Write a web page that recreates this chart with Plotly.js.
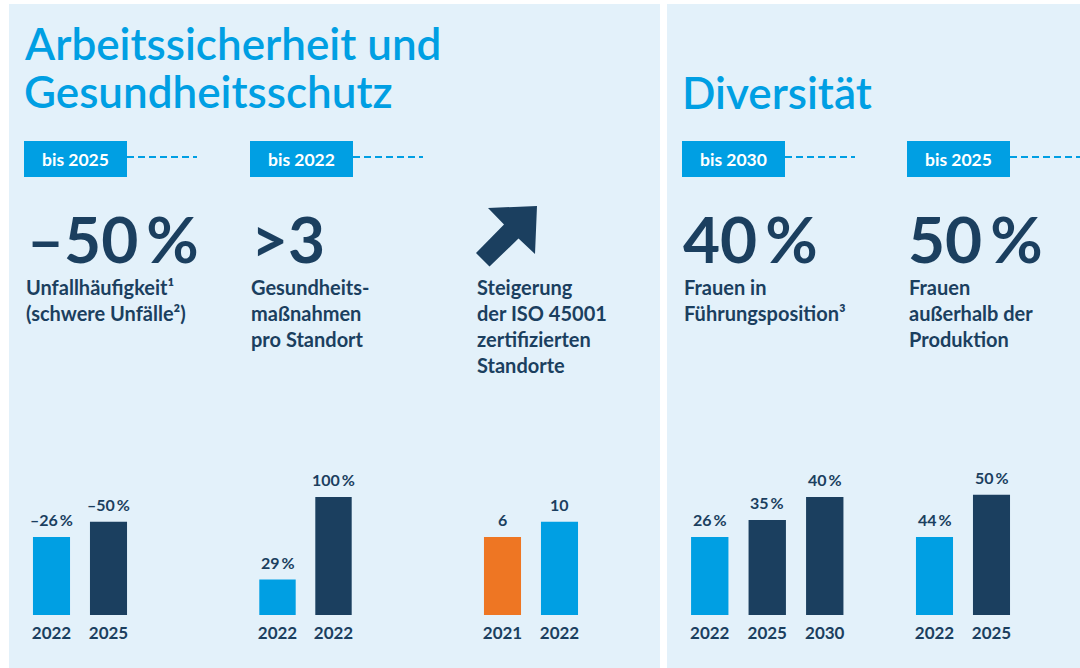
<!DOCTYPE html>
<html>
<head>
<meta charset="utf-8">
<script src="https://cdn.plot.ly/plotly-3.0.1.min.js"></script>
<style>
  html, body { margin: 0; padding: 0; background: #ffffff; }
  #chart { width: 1080px; height: 668px; }
</style>
</head>
<body>
<div id="chart"></div>
<script>
// ---------------- data ----------------
// Arbeitssicherheit: Unfallhäufigkeit (schwere Unfälle)
const g1Years = ['2022', '2025'];
const g1Values = [-26, -50];           // %
const g1Bars = [66, 79];               // drawn bar length (index, tallest bar = 100)

// Gesundheitsmaßnahmen pro Standort
const g2Years = ['2022', '2022'];
const g2Values = [29, 100];            // %
const g2Bars = [30, 100];

// ISO 45001 zertifizierte Standorte
const g3Years = ['2021', '2022'];
const g3Values = [6, 10];              // Anzahl
const g3Bars = [66, 79];

// Frauen in Führungsposition
const g4Years = ['2022', '2025', '2030'];
const g4Values = [26, 35, 40];         // %
const g4Bars = [66, 80.5, 100];

// Frauen außerhalb der Produktion
const g5Years = ['2022', '2025'];
const g5Values = [44, 50];             // %
const g5Bars = [66, 102];

// headline texts
const sectionTitles = ['Arbeitssicherheit und', 'Gesundheitsschutz', 'Diversität'];
const targetBadges = ['bis 2025', 'bis 2022', 'bis 2030', 'bis 2025'];
const kpiHeadlines = ['–50\u2009%', '>3', '40\u2009%', '50\u2009%'];
const kpiTexts = [
  'Unfallhäufigkeit¹<br>(schwere Unfälle²)',
  'Gesundheits-<br>maßnahmen<br>pro Standort',
  'Steigerung<br>der ISO 45001<br>zertifizierten<br>Standorte',
  'Frauen in<br>Führungsposition³',
  'Frauen<br>außerhalb der<br>Produktion'
];

// ---------------- styling ----------------
const BLUE = '#009FE3';
const NAVY = '#1B3F5F';
const ORANGE = '#EE7623';
const PANEL = '#E3F1FA';
const FONT = 'Lato, "Open Sans", sans-serif';

const W = 1080, H = 668;
const px = x => x / W;
const py = y => 1 - y / H;

const pct = v => (v < 0 ? '–' : '') + Math.abs(v) + '\u2009%';

const groups = [
  {years: g1Years, bars: g1Bars, labels: g1Values.map(pct), colors: [BLUE, NAVY], dom: [23, 137]},
  {years: g2Years, bars: g2Bars, labels: g2Values.map(pct), colors: [BLUE, NAVY], dom: [249.5, 361.5]},
  {years: g3Years, bars: g3Bars, labels: g3Values.map(String), colors: [ORANGE, BLUE], dom: [474, 588]},
  {years: g4Years, bars: g4Bars, labels: g4Values.map(pct), colors: [BLUE, NAVY, NAVY], dom: [681, 853.5]},
  {years: g5Years, bars: g5Bars, labels: g5Values.map(pct), colors: [BLUE, NAVY], dom: [906, 1020]}
];

const traces = [];
// 1.18 px per index unit; baseline at y = 615 px
const Y_MAX = 120;
const layout = {
  width: W, height: H,
  margin: {l: 0, r: 0, t: 0, b: 0},
  paper_bgcolor: '#ffffff',
  plot_bgcolor: 'rgba(0,0,0,0)',
  showlegend: false,
  bargap: 0.35,
  font: {family: FONT, color: NAVY},
  yaxis: {domain: [py(615), py(615 - 1.18 * Y_MAX)], range: [0, Y_MAX], visible: false, fixedrange: true},
  shapes: [],
  annotations: []
};

groups.forEach((g, i) => {
  const ax = i === 0 ? 'x' : 'x' + (i + 1);
  const axKey = i === 0 ? 'xaxis' : 'xaxis' + (i + 1);
  const idx = g.years.map((_, k) => k);
  traces.push({
    type: 'bar', x: idx, y: g.bars, xaxis: ax, yaxis: 'y',
    marker: {color: g.colors, line: {width: 0}},
    hoverinfo: 'skip'
  });
  layout[axKey] = {
    domain: [px(g.dom[0]), px(g.dom[1])],
    anchor: 'y',
    range: [-0.5, g.years.length - 0.5],
    tickmode: 'array', tickvals: idx, ticktext: g.years,
    ticks: '', showline: false, showgrid: false, zeroline: false,
    tickfont: {family: FONT, size: 17, color: NAVY, weight: 700},
    ticklabelstandoff: 6,
    fixedrange: true
  };
  idx.forEach(k => {
    layout.annotations.push({
      xref: ax, yref: 'y', x: k, y: g.bars[k],
      text: g.labels[k], showarrow: false,
      xanchor: 'center', yanchor: 'bottom', yshift: 6,
      font: {family: FONT, size: 16, color: NAVY, weight: 700}
    });
  });
});

// panels
layout.shapes.push({type: 'rect', xref: 'paper', yref: 'paper', x0: px(9), x1: px(660), y0: 0, y1: py(4), fillcolor: PANEL, line: {width: 0}, layer: 'below'});
layout.shapes.push({type: 'rect', xref: 'paper', yref: 'paper', x0: px(667), x1: 1, y0: 0, y1: py(4), fillcolor: PANEL, line: {width: 0}, layer: 'below'});

// badges with dashed leader lines
const badgeX = [24, 250, 682, 907];
badgeX.forEach((bx, i) => {
  layout.shapes.push({type: 'rect', xref: 'paper', yref: 'paper', x0: px(bx), x1: px(bx + 103), y0: py(177), y1: py(141), fillcolor: BLUE, line: {width: 0}});
  layout.shapes.push({type: 'line', xref: 'paper', yref: 'paper', x0: px(bx + 103), x1: px(bx + 173), y0: py(157), y1: py(157), line: {color: BLUE, width: 2, dash: '7px,4px'}});
  layout.annotations.push({xref: 'paper', yref: 'paper', x: px(bx + 51.5), y: py(159), text: targetBadges[i], showarrow: false, xanchor: 'center', yanchor: 'middle', font: {family: FONT, size: 17.5, color: '#ffffff', weight: 700}});
});

// arrow icon
const arrowPts = [[537, 206], [488, 208], [504, 224.5], [476, 253], [489.5, 266.5], [518.5, 238.5], [535, 254]];
layout.shapes.push({
  type: 'path', xref: 'paper', yref: 'paper',
  path: 'M' + arrowPts.map(p => px(p[0]) + ',' + py(p[1])).join(' L') + ' Z',
  fillcolor: NAVY, line: {width: 0}
});

// text helper: position by baseline of first line
function txt(text, x, baseline, size, color, weight, anchor) {
  layout.annotations.push({
    xref: 'paper', yref: 'paper', x: px(x), y: py(baseline - 0.987 * size),
    text: text, showarrow: false, xanchor: anchor || 'left', yanchor: 'top', align: 'left',
    borderpad: 0,
    font: {family: FONT, size: size, color: color, weight: weight}
  });
}

txt(sectionTitles[0], 23, 59, 44, BLUE, 600);
txt(sectionTitles[1], 23, 107.5, 44, BLUE, 600);
txt(sectionTitles[2], 681, 108, 44, BLUE, 600);

const kpiX = [26, 250, 682, 907];
kpiHeadlines.forEach((t, i) => txt(t, kpiX[i], 262, 64, NAVY, 700));

const descX = [25, 250, 476, 683, 908];
kpiTexts.forEach((t, i) => txt(t, descX[i], 294, 20, NAVY, 700));

Plotly.newPlot('chart', traces, layout, {displayModeBar: false, staticPlot: true});
</script>
</body>
</html>
